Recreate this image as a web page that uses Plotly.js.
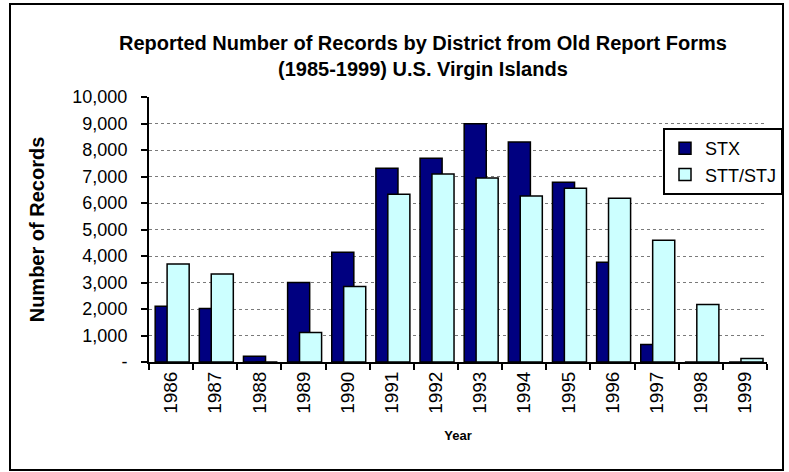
<!DOCTYPE html>
<html>
<head>
<meta charset="utf-8">
<script src="https://cdn.plot.ly/plotly-3.0.1.min.js"></script>
<style>
  html, body { margin: 0; padding: 0; background: #fff; }
  #chart { width: 789px; height: 472px; }
</style>
</head>
<body>
<div id="chart"></div>
<script>
// values
const years = ['1986', '1987', '1988', '1989', '1990', '1991', '1992',
               '1993', '1994', '1995', '1996', '1997', '1998', '1999'];
const stx = [2100, 2020, 215, 3000, 4140, 7310, 7690, 8990, 8300, 6780, 3760, 660, 0, 0];
const sttStj = [3700, 3320, 0, 1110, 2850, 6330, 7090, 6940, 6260, 6560, 6180, 4590, 2170, 130];
const yTickVals = [0, 1000, 2000, 3000, 4000, 5000, 6000, 7000, 8000, 9000, 10000];
const yTickText = ['-', '1,000', '2,000', '3,000', '4,000', '5,000', '6,000',
                   '7,000', '8,000', '9,000', '10,000'];

const font = '"Liberation Sans", Arial, sans-serif';

const traces = [
    {
        type: 'bar',
        name: 'STX',
        x: years,
        y: stx,
        width: 0.5,
        offset: -0.36,
        marker: { color: '#000080', line: { color: '#000000', width: 1.5 } }
    },
    {
        type: 'bar',
        name: 'STT/STJ',
        x: years,
        y: sttStj,
        width: 0.5,
        offset: -0.09,
        marker: { color: '#CCFFFF', line: { color: '#000000', width: 1.5 } }
    }
];

const layout = {
    width: 789,
    height: 472,
    margin: { l: 149, r: 22, t: 97, b: 110, autoexpand: false },
    paper_bgcolor: '#ffffff',
    plot_bgcolor: '#ffffff',
    font: { family: font, color: '#000000' },
    barmode: 'overlay',
    title: {
        text: '<b>Reported Number of Records by District from Old Report Forms<br>(1985-1999) U.S. Virgin Islands</b>',
        font: { family: font, size: 20, color: '#000000' },
        x: 0.536,
        xanchor: 'center',
        xref: 'container',
        y: 1 - 50 / 472,
        yanchor: 'top',
        yref: 'container'
    },
    xaxis: {
        type: 'category',
        tickangle: -90,
        tickfont: { size: 19 },
        tickson: 'boundaries',
        ticks: 'outside',
        ticklen: 6,
        tickwidth: 2,
        tickcolor: '#000000',
        showline: true,
        linecolor: '#000000',
        linewidth: 2,
        showgrid: false,
        automargin: false,
        title: { text: '<b>Year</b>', font: { size: 13 }, standoff: 18 }
    },
    yaxis: {
        range: [0, 10000],
        tickvals: yTickVals,
        ticktext: yTickText,
        tickfont: { size: 18 },
        ticks: 'outside',
        ticklen: 6,
        tickwidth: 2,
        tickcolor: '#000000',
        ticklabelstandoff: 10,
        showline: true,
        linecolor: '#000000',
        linewidth: 2,
        showgrid: true,
        gridcolor: '#7a7a7a',
        gridwidth: 1,
        griddash: 'dot',
        zeroline: false,
        automargin: false,
        title: { text: '<b>Number of Records</b>', font: { size: 20 }, standoff: 22 }
    },
    showlegend: true,
    legend: {
        x: (783 - 149) / 618,
        y: 0.883,
        xanchor: 'right',
        yanchor: 'top',
        bgcolor: '#ffffff',
        bordercolor: '#000000',
        borderwidth: 2,
        font: { size: 18 },
        itemwidth: 30
    },
    shapes: [
        {
            type: 'rect',
            xref: 'paper', yref: 'paper',
            x0: (10 - 149) / 618, x1: (783 - 149) / 618,
            y0: (362 - 470) / 265, y1: (362 - 4) / 265,
            line: { color: '#000000', width: 2 },
            layer: 'below'
        }
    ]
};

Plotly.newPlot('chart', traces, layout, { staticPlot: true });
</script>
</body>
</html>
